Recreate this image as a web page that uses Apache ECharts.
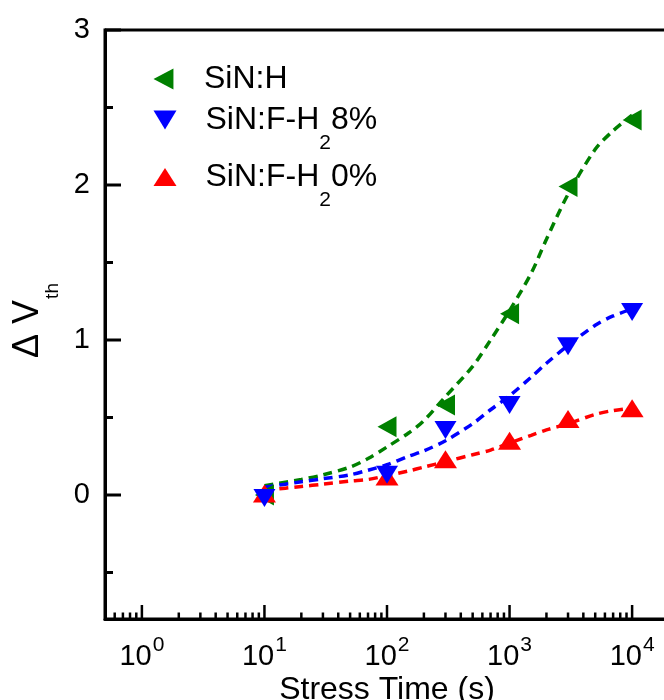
<!DOCTYPE html>
<html><head><meta charset="utf-8">
<script src="https://cdn.jsdelivr.net/npm/echarts@6/dist/echarts.min.js"></script>
<style>html,body{margin:0;padding:0;overflow:hidden;background:#fff;width:664px;height:700px}
#c{width:700px;height:700px}</style>
</head><body><div id="c"></div>
<script>
// measured data
const stressTime = [10, 100, 300, 1000, 3000, 10000];
const sinH   = [0.00, 0.44, 0.58, 1.17, 1.99, 2.42];
const sinFH8 = [-0.02, 0.13, 0.42, 0.58, 0.96, 1.18];
const sinFH0 = [0.01, 0.12, 0.23, 0.35, 0.49, 0.56];
// fitted (dashed) curves
const fitTime   = [10, 20, 30, 50, 70, 100, 150, 200, 300, 500, 700, 1000, 1500, 2000, 3000, 5000, 7000, 10000];
const fitSinH   = [0.06, 0.10, 0.13, 0.18, 0.235, 0.31, 0.40, 0.48, 0.635, 0.83, 1.00, 1.19, 1.43, 1.65, 1.94, 2.23, 2.35, 2.45];
const fitSinFH8 = [0.05, 0.085, 0.105, 0.13, 0.16, 0.195, 0.25, 0.285, 0.35, 0.46, 0.55, 0.64, 0.76, 0.85, 0.965, 1.095, 1.155, 1.20];
const fitSinFH0 = [0.03, 0.055, 0.07, 0.09, 0.10, 0.125, 0.155, 0.18, 0.215, 0.26, 0.29, 0.335, 0.385, 0.42, 0.46, 0.52, 0.545, 0.56];
// axis ticks
const xMajorTicks = [1, 10, 100, 1000, 10000];
const xMinorTicks = [0.6, 0.7, 0.8, 0.9, 2, 3, 4, 5, 6, 7, 8, 9, 20, 30, 40, 50, 60, 70, 80, 90,
  200, 300, 400, 500, 600, 700, 800, 900, 2000, 3000, 4000, 5000, 6000, 7000, 8000, 9000];
const yMajorTicks = [0, 1, 2, 3];
const yMinorTicks = [-0.5, 0.5, 1.5, 2.5];
const seriesNames = ['SiN:H', 'SiN:F-H2 8%', 'SiN:F-H2 0%'];
const legendLabels = {
  'SiN:H': '{sp| }{n|SiN:H}',
  'SiN:F-H2 8%': '{sp| }{n|SiN:F-H}{s|2}{n|8%}',
  'SiN:F-H2 0%': '{sp| }{n|SiN:F-H}{s|2}{n|0%}'
};

const X_MIN = 0.5, X_MAX = 20000, Y_MIN = -0.8, Y_MAX = 3;
const FONT = 'Liberation Sans, Arial, sans-serif';
const colors = ['#008000', '#0000ff', '#ff0000'];
const symbols = ['path://M0,10L19,0L19,20Z', 'path://M0,0L22,0L11,18Z', 'path://M11.5,0L23,18L0,18Z'];
const symbolSizes = [[19, 21], [22, 18], [23, 18]];
const markerZ = [3, 4, 3.5];

function tickSeries(values, horizontal, len, width) {
  return {
    type: 'custom', silent: true, z: 5, clip: false,
    data: values.map(v => horizontal ? [X_MIN, v] : [v, Y_MIN]),
    renderItem: function (params, api) {
      const p = api.coord([api.value(0), api.value(1)]);
      return {
        type: 'line',
        shape: horizontal ? { x1: p[0], y1: p[1], x2: p[0] + len, y2: p[1] }
                          : { x1: p[0], y1: p[1], x2: p[0], y2: p[1] - len },
        style: { stroke: '#000', lineWidth: width }
      };
    }
  };
}

const legendRich = {
  sp: { width: 24, fontSize: 32, fontFamily: FONT },
  n: { fontSize: 32, fontFamily: FONT, color: '#000' },
  s: { fontSize: 21, fontFamily: FONT, color: '#000', verticalAlign: 'top', padding: [46, 0, 0, 0] }
};
const legendTops = [63, 104, 161];
const legends = seriesNames.map((nm, i) => ({
  orient: 'vertical', left: 153.5, top: legendTops[i], padding: 0,
  itemWidth: 23, itemHeight: 21, symbolKeepAspect: true,
  data: [{ name: nm, icon: symbols[i] }],
  formatter: name => legendLabels[name],
  textStyle: { rich: legendRich, fontSize: 32, fontFamily: FONT }
}));

const dataSets = [sinH, sinFH8, sinFH0];
const fitSets = [fitSinH, fitSinFH8, fitSinFH0];
const series = [];
fitSets.forEach((fs, i) => {
  series.push({
    name: seriesNames[i] + ' fit', type: 'line', silent: true, showSymbol: false, smooth: 0.3, z: 2,
    data: fitTime.map((t, k) => [t, fs[k]]),
    lineStyle: { color: colors[i], width: 3.5, type: [9, 6] }
  });
});
dataSets.forEach((ds, i) => {
  series.push({
    name: seriesNames[i], type: 'scatter', z: markerZ[i],
    symbol: symbols[i], symbolSize: symbolSizes[i],
    itemStyle: { color: colors[i], opacity: 1 },
    data: stressTime.map((t, k) => [t, ds[k]])
  });
});
series.push(tickSeries(xMajorTicks, false, 14, 2.5));
series.push(tickSeries(xMinorTicks, false, 6.5, 2.5));
series.push(tickSeries(yMajorTicks, true, 16, 3));
series.push(tickSeries(yMinorTicks, true, 8, 3));

const chart = echarts.init(document.getElementById('c'), null, { renderer: 'canvas' });
chart.setOption({
  animation: false,
  backgroundColor: '#fff',
  textStyle: { fontFamily: FONT },
  legend: legends,
  grid: {
    left: 105, right: 31, top: 30, bottom: 81,
    show: true, borderColor: '#000', borderWidth: 3, backgroundColor: 'transparent',
    containLabel: false, outerBoundsMode: 'none'
  },
  xAxis: {
    type: 'log', logBase: 10, min: X_MIN, max: X_MAX,
    axisLine: { show: true, onZero: false, lineStyle: { color: '#000', width: 3 } },
    axisTick: { show: false }, splitLine: { show: false }, minorTick: { show: false },
    axisLabel: {
      margin: 16, color: '#000', showMinLabel: true, showMaxLabel: true, hideOverlap: false,
      formatter: function (v) {
        const e = Math.log10(v);
        if (Math.abs(e - Math.round(e)) > 1e-6) return '';
        return '{b|10}{s|' + Math.round(e) + '}';
      },
      rich: {
        b: { fontSize: 29, fontFamily: FONT, color: '#000' },
        s: { fontSize: 21, fontFamily: FONT, color: '#000', verticalAlign: 'bottom', padding: [0, 0, 22, 1] }
      }
    },
    name: 'Stress Time (s)', nameLocation: 'middle', nameGap: 55, nameMoveOverlap: false,
    nameTextStyle: { fontSize: 32, fontFamily: FONT, color: '#000' }
  },
  yAxis: {
    type: 'value', min: Y_MIN, max: Y_MAX, splitNumber: 5,
    axisLine: { show: true, onZero: false, lineStyle: { color: '#000', width: 3 } },
    axisTick: { show: false }, splitLine: { show: false },
    axisLabel: {
      margin: 15, fontSize: 29, fontFamily: FONT, color: '#000', hideOverlap: false,
      formatter: v => (Number.isInteger(v) && yMajorTicks.indexOf(v) >= 0) ? String(v) : ''
    },
    name: '{d|Δ V}{t|th}', nameLocation: 'middle', nameGap: 43, nameMoveOverlap: false,
    nameTextStyle: {
      padding: [0, 0, 0, 8],
      rich: {
        d: { fontSize: 36, fontFamily: FONT, color: '#000' },
        t: { fontSize: 19, fontFamily: FONT, color: '#000', verticalAlign: 'top', padding: [48, 0, 0, 1] }
      }
    }
  },
  series: series
});
</script></body></html>
